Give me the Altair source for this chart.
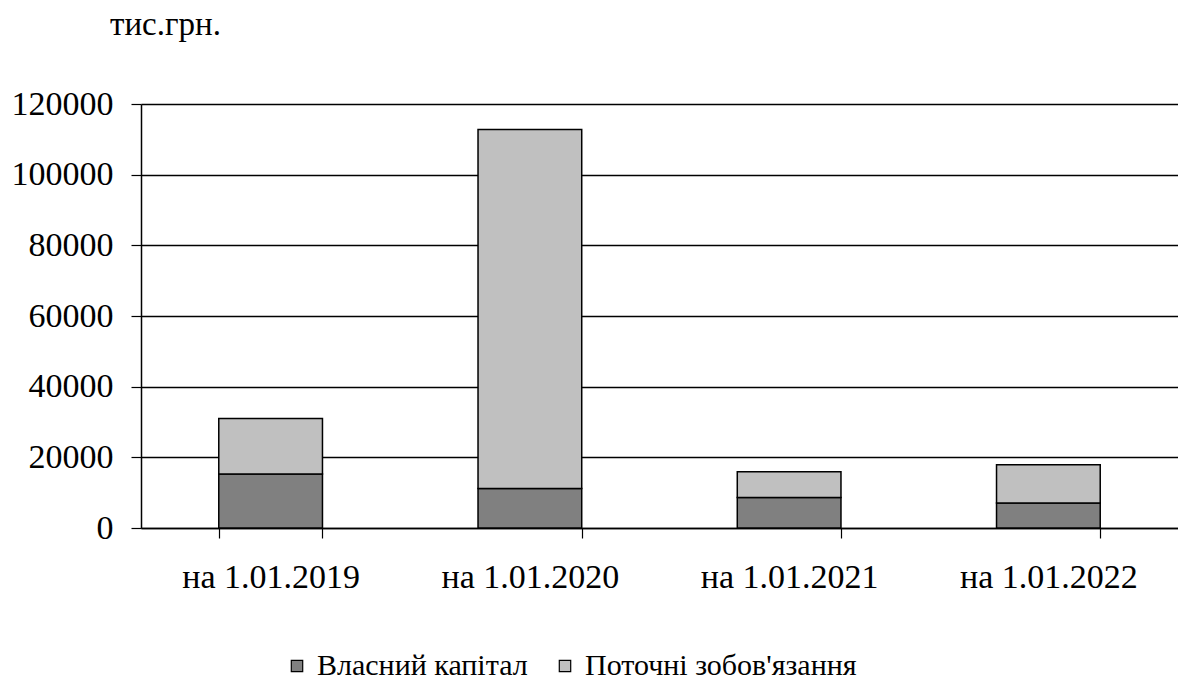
import altair as alt
import pandas as pd

categories = ["на 1.01.2019", "на 1.01.2020", "на 1.01.2021", "на 1.01.2022"]
equity = [15300, 11200, 8600, 7100]
liabilities = [15700, 101600, 7300, 10800]
series_names = ["Власний капітал", "Поточні зобов'язання"]
colors = ["#808080", "#C0C0C0"]

rows = []
for i, c in enumerate(categories):
    rows.append({"cat": c, "series": series_names[0], "value": equity[i], "ord": 0})
    rows.append({"cat": c, "series": series_names[1], "value": liabilities[i], "ord": 1})
df = pd.DataFrame(rows)

FONT = "Liberation Serif"

chart = alt.Chart(df).mark_bar(stroke="black", strokeWidth=1.5).encode(
    x=alt.X("cat:N", sort=categories, title=None,
            scale=alt.Scale(paddingInner=0.6, paddingOuter=0.3),
            axis=alt.Axis(labelAngle=0, labelFont=FONT, labelFontSize=34, labelColor="black",
                          tickBand="extent", tickSize=10, tickColor="black", tickWidth=1.2,
                          domainColor="black", domainWidth=1.5, labelPadding=22, grid=False)),
    y=alt.Y("value:Q", stack="zero", title=None,
            scale=alt.Scale(domain=[0, 120000]),
            axis=alt.Axis(values=[0, 20000, 40000, 60000, 80000, 100000, 120000],
                          labelFont=FONT, labelFontSize=34, labelColor="black",
                          tickSize=10, tickColor="black", tickWidth=1.2,
                          domainColor="black", domainWidth=1.5,
                          gridColor="black", gridWidth=1.3, labelPadding=18, format="d")),
    color=alt.Color("series:N", scale=alt.Scale(domain=series_names, range=colors),
                    legend=alt.Legend(title=None, orient="none", direction="horizontal",
                                      legendX=141, legendY=547)),
    order=alt.Order("ord:Q"),
).properties(
    width=1037, height=424,
    title=alt.TitleParams("тис.грн.", anchor="start", frame="group", dx=-31, offset=45,
                          font=FONT, fontSize=33, fontWeight="normal", color="black"),
    autosize=alt.AutoSizeParams(type="none"),
    padding={"left": 133, "top": 96, "right": 0, "bottom": 148},
).configure_view(stroke=None).configure_legend(
    labelFont=FONT, labelFontSize=30, labelColor="black", labelLimit=0,
    symbolType="square", symbolSize=130, symbolStrokeColor="black", symbolStrokeWidth=1.2,
    columnPadding=22, labelOffset=5, padding=0,
)

chart.save("out.html", embed_options={"renderer": "svg", "actions": False})
